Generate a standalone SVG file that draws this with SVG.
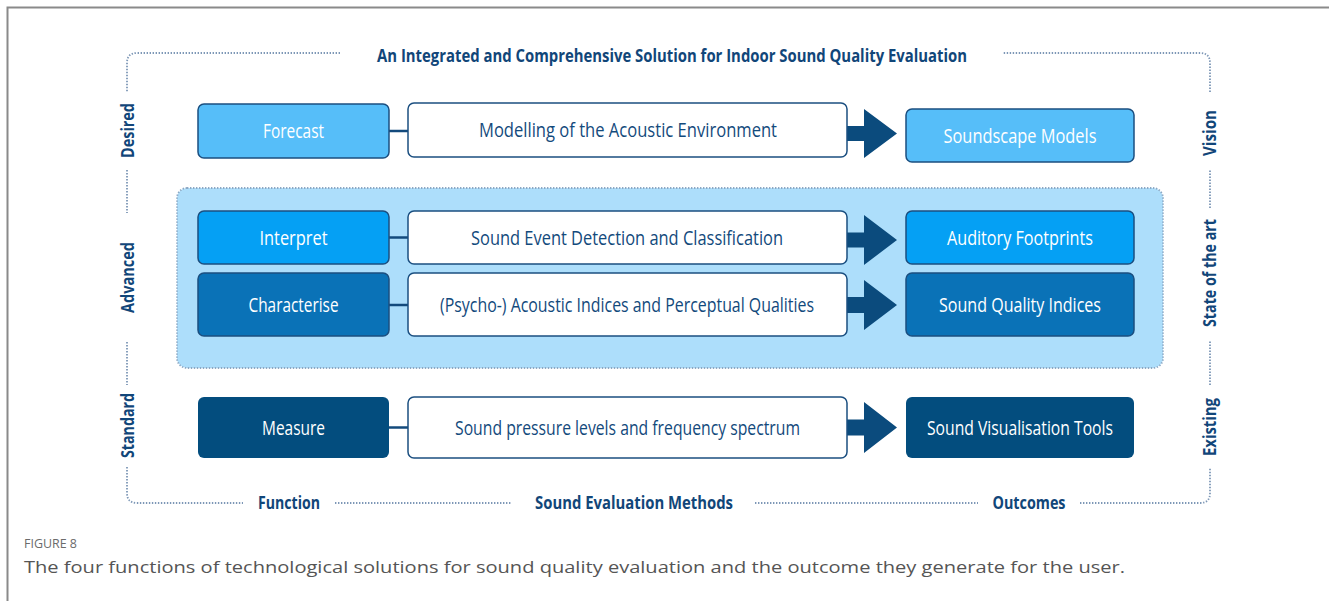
<svg xmlns="http://www.w3.org/2000/svg" width="1329" height="601" viewBox="0 0 1329 601">
<style>
.dot{fill:none;stroke:#7d97b6;stroke-width:1.8;stroke-dasharray:1.4 1.6}
.lbl{font-family:"Open Sans","Liberation Sans",sans-serif;font-weight:bold;font-size:18.5px;fill:#114679;text-anchor:middle}
.bt{font-family:"Open Sans","Liberation Sans",sans-serif;font-size:20px;text-anchor:middle;dominant-baseline:central}
.w{fill:#ffffff}
.d{fill:#134a7c}
.box{stroke:#1b4f80;stroke-width:1.5}
.mbox{fill:#ffffff;stroke:#1b4f80;stroke-width:1.5}
.con{stroke:#134a7c;stroke-width:2.5}
.arr{fill:#0b4b7d}
</style>
<rect width="1329" height="601" fill="#ffffff"/>
<path d="M7.5 601 V7.5 H1329" fill="none" stroke="#8a8a8a" stroke-width="2"/>

<g id="frame">
<path class="dot" d="M340 53 H137 Q127 53 127 63 V92 M127 170 V213 M127 342 V385 M127 467 V493 Q127 503 137 503 H243 M335 503 H512 M755 503 H978 M1080 503 H1200 Q1210 503 1210 493 V468 M1210 385 V340 M1210 208 V170 M1210 92 V63 Q1210 53 1200 53 H1003"/>
<text class="lbl" x="672" y="61.5" textLength="590" lengthAdjust="spacingAndGlyphs">An Integrated and Comprehensive Solution for Indoor Sound Quality Evaluation</text>
<text class="lbl" x="289" y="508.5" textLength="62" lengthAdjust="spacingAndGlyphs">Function</text>
<text class="lbl" x="634" y="508.5" textLength="198" lengthAdjust="spacingAndGlyphs">Sound Evaluation Methods</text>
<text class="lbl" x="1029" y="508.5" textLength="73" lengthAdjust="spacingAndGlyphs">Outcomes</text>
<text class="lbl" transform="translate(134 130.5) rotate(-90)" textLength="55" lengthAdjust="spacingAndGlyphs">Desired</text>
<text class="lbl" transform="translate(134 277.5) rotate(-90)" textLength="71" lengthAdjust="spacingAndGlyphs">Advanced</text>
<text class="lbl" transform="translate(134 425.5) rotate(-90)" textLength="65" lengthAdjust="spacingAndGlyphs">Standard</text>
<text class="lbl" transform="translate(1216 133) rotate(-90)" textLength="46" lengthAdjust="spacingAndGlyphs">Vision</text>
<text class="lbl" transform="translate(1216 273) rotate(-90)" textLength="108" lengthAdjust="spacingAndGlyphs">State of the art</text>
<text class="lbl" transform="translate(1216 427) rotate(-90)" textLength="58" lengthAdjust="spacingAndGlyphs">Existing</text>
</g>

<g id="advanced-region">
<rect x="177" y="188" width="986" height="180" rx="10" fill="#addefb" stroke="#8ca8c4" stroke-width="1.8" stroke-dasharray="1.4 1.6"/>
</g>

<g id="connectors">
<line class="con" x1="389" y1="131" x2="408" y2="131"/>
<line class="con" x1="389" y1="237.5" x2="408" y2="237.5"/>
<line class="con" x1="389" y1="305" x2="408" y2="305"/>
<line class="con" x1="389" y1="427.5" x2="408" y2="427.5"/>
<path class="arr" d="M845 126 H864 V109 L897 133.5 L864 158 V141 H845 Z"/>
<path class="arr" d="M845 232.5 H864 V215 L897 240 L864 265 V247.5 H845 Z"/>
<path class="arr" d="M845 297 H864 V280 L897 305 L864 330 V313 H845 Z"/>
<path class="arr" d="M845 419.5 H864 V402 L897 427.5 L864 453 V435.5 H845 Z"/>
</g>

<g id="forecast"><rect class="box" x="198" y="104" width="191" height="54" rx="6" fill="#56bef9"/><text class="bt w" x="293.5" y="130.5" textLength="61" lengthAdjust="spacingAndGlyphs">Forecast</text></g>
<g id="modelling"><rect class="mbox" x="408" y="103" width="439" height="54" rx="6"/><text class="bt d" x="628" y="129.5" textLength="298" lengthAdjust="spacingAndGlyphs">Modelling of the Acoustic Environment</text></g>
<g id="soundscape-models"><rect class="box" x="906" y="109" width="228" height="53" rx="6" fill="#56bef9"/><text class="bt w" x="1020" y="135" textLength="153" lengthAdjust="spacingAndGlyphs">Soundscape Models</text></g>

<g id="interpret"><rect class="box" x="198" y="211" width="191" height="53" rx="6" fill="#05a0f4"/><text class="bt w" x="293.5" y="237" textLength="68" lengthAdjust="spacingAndGlyphs">Interpret</text></g>
<g id="event-detection"><rect class="mbox" x="408" y="211" width="439" height="53" rx="6"/><text class="bt d" x="627" y="237" textLength="312" lengthAdjust="spacingAndGlyphs">Sound Event Detection and Classification</text></g>
<g id="auditory-footprints"><rect class="box" x="906" y="211" width="228" height="53" rx="6" fill="#05a0f4"/><text class="bt w" x="1020" y="237" textLength="146" lengthAdjust="spacingAndGlyphs">Auditory Footprints</text></g>

<g id="characterise"><rect class="box" x="198" y="273" width="191" height="63" rx="6" fill="#0a72b7"/><text class="bt w" x="293.5" y="304" textLength="90" lengthAdjust="spacingAndGlyphs">Characterise</text></g>
<g id="acoustic-indices"><rect class="mbox" x="408" y="273" width="439" height="63" rx="6"/><text class="bt d" x="627" y="304" textLength="374" lengthAdjust="spacingAndGlyphs">(Psycho-) Acoustic Indices and Perceptual Qualities</text></g>
<g id="sound-quality-indices"><rect class="box" x="906" y="273" width="228" height="63" rx="6" fill="#0a72b7"/><text class="bt w" x="1020" y="304" textLength="162" lengthAdjust="spacingAndGlyphs">Sound Quality Indices</text></g>

<g id="measure"><rect x="198" y="397" width="191" height="61" rx="6" fill="#034d7e"/><text class="bt w" x="293.5" y="427" textLength="63" lengthAdjust="spacingAndGlyphs">Measure</text></g>
<g id="spl-spectrum"><rect class="mbox" x="408" y="397" width="439" height="61" rx="6"/><text class="bt d" x="627.5" y="427" textLength="345" lengthAdjust="spacingAndGlyphs">Sound pressure levels and frequency spectrum</text></g>
<g id="visualisation-tools"><rect x="906" y="397" width="228" height="61" rx="6" fill="#034d7e"/><text class="bt w" x="1020" y="427" textLength="186" lengthAdjust="spacingAndGlyphs">Sound Visualisation Tools</text></g>

<g id="caption">
<text x="24" y="548" font-family="'Open Sans','Liberation Sans',sans-serif" font-size="13.5" fill="#6b6b6b" textLength="53" lengthAdjust="spacingAndGlyphs">FIGURE 8</text>
<text x="24" y="573" font-family="'Open Sans','Liberation Sans',sans-serif" font-size="16.5" fill="#555555" textLength="1101" lengthAdjust="spacingAndGlyphs">The four functions of technological solutions for sound quality evaluation and the outcome they generate for the user.</text>
</g>
</svg>
